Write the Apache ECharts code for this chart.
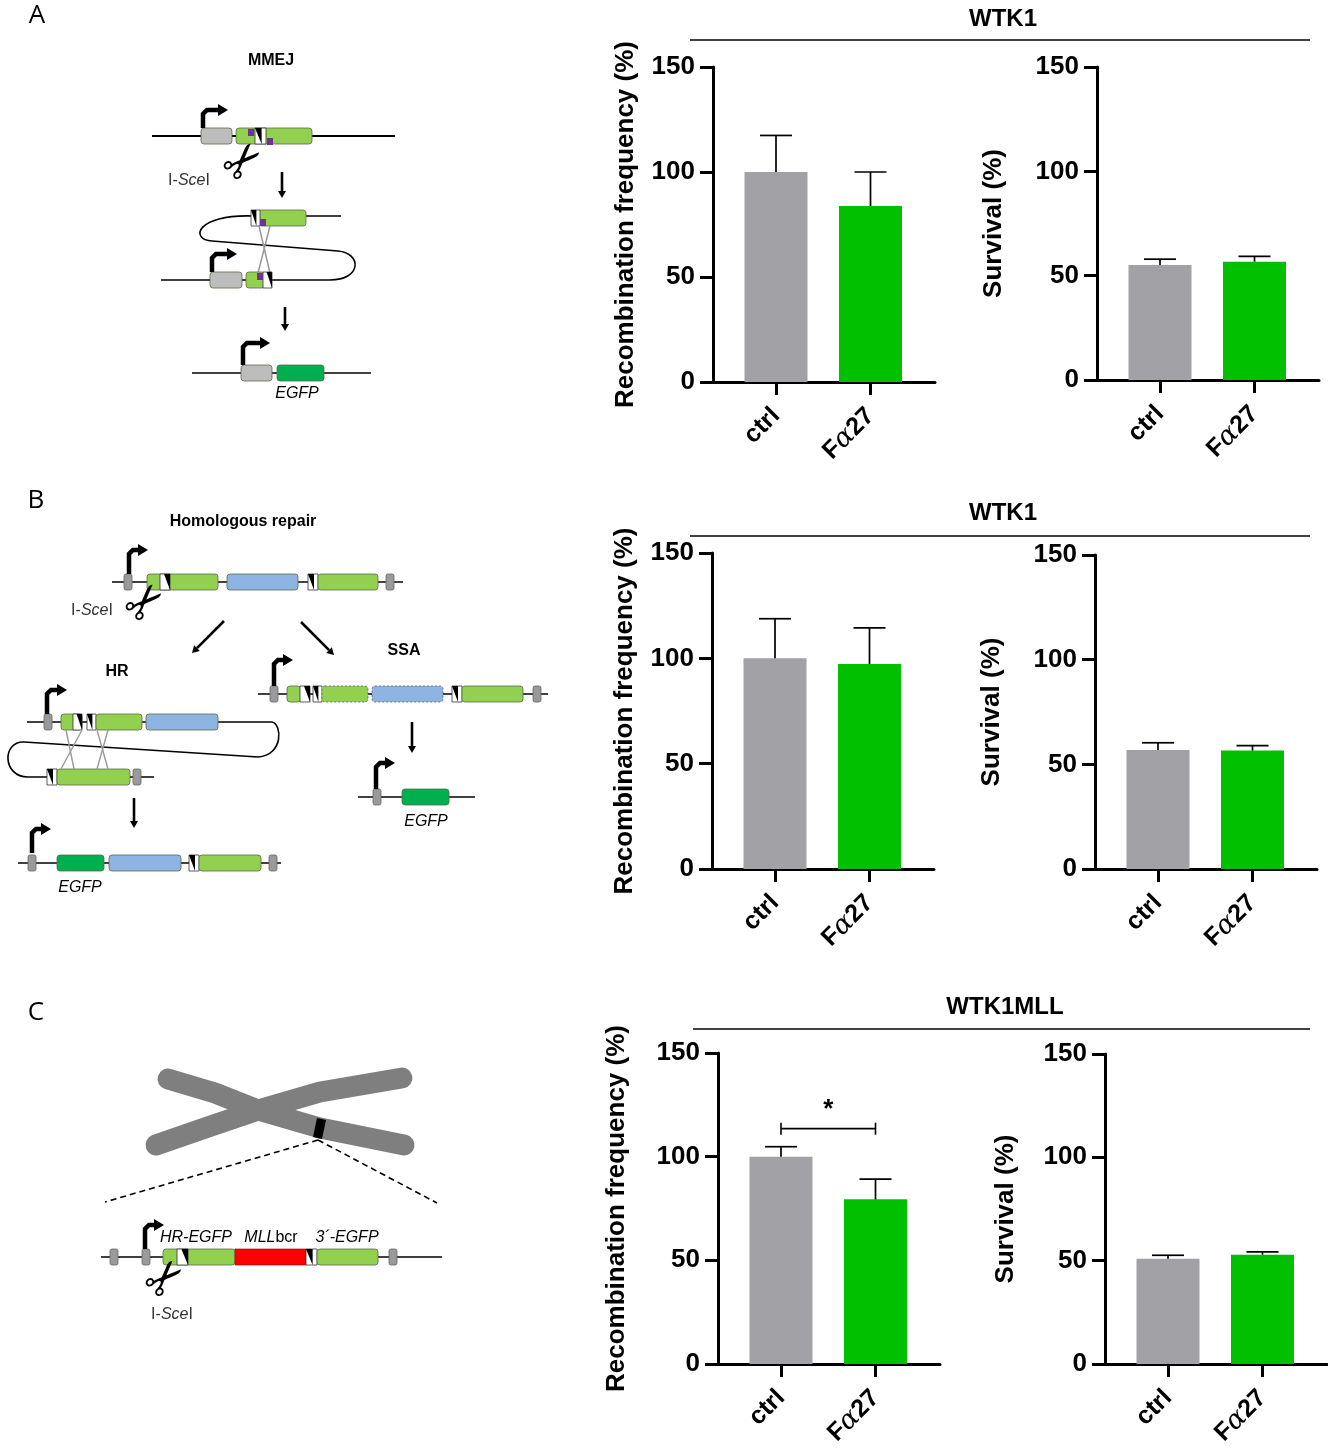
<!DOCTYPE html>
<html>
<head>
<meta charset="utf-8">
<script src="https://cdn.jsdelivr.net/npm/echarts@6/dist/echarts.min.js"></script>
<style>
html,body{margin:0;padding:0;background:#fff}
#main{width:1328px;height:1449px}
</style>
</head>
<body>
<div id="main"></div>
<script>
// ---- data ----
var categories = ['ctrl', 'Fα27'];
var barColors = ['#a2a1a6', '#00c000'];

// A : WTK1 (MMEJ reporter)
var recA = [100, 83.8];
var recAErr = [17.4, 16.2];
var survA = [55.1, 56.7];
var survAErr = [2.8, 2.5];
// B : WTK1 (homologous repair reporter)
var recB = [100, 97.3];
var recBErr = [18.8, 17.2];
var survB = [56.9, 56.6];
var survBErr = [3.4, 2.3];
// C : WTK1MLL
var recC = [100, 79.4];
var recCErr = [4.8, 9.8];
var survC = [50.9, 52.9];
var survCErr = [1.7, 1.3];
// significance bracket in C (from ctrl to Fα27, at this height)
var sigC = [[1, 2, 113.5, '*']];

var FONT = 'Liberation Sans, Arial, sans-serif';
var recName = 'Recombination frequency (%)';
var survName = 'Survival (%)';

var panels = [
  {x: 713, top: 67, bottom: 382, v: recA, e: recAErr, name: recName, gap: 74},
  {x: 1097, top: 67, bottom: 380, v: survA, e: survAErr, name: survName, gap: 90},
  {x: 712, top: 553, bottom: 869, v: recB, e: recBErr, name: recName, gap: 74},
  {x: 1095, top: 555, bottom: 869, v: survB, e: survBErr, name: survName, gap: 90},
  {x: 718, top: 1053, bottom: 1368, v: recC, e: recCErr, name: recName, gap: 88},
  {x: 1105, top: 1054, bottom: 1366, v: survC, e: survCErr, name: survName, gap: 86}
];

var chart = echarts.init(document.getElementById('main'));

function catLabel(v) {
  var s = categories[Math.round(v) - 1] || '';
  return s.replace(/([^α]+)/g, '{b|$1}').replace('α', '{a|α}');
}

var grids = [], xAxes = [], yAxes = [], series = [];
panels.forEach(function (p, i) {
  grids.push({left: p.x, top: p.top, width: 222, height: p.bottom - p.top});
  xAxes.push({
    gridIndex: i, type: 'value', min: 1 / 3, max: 1 / 3 + 222 / 94.5,
    axisLine: {show: true, onZero: false, lineStyle: {color: '#000', width: 3}},
    splitLine: {show: false},
    axisTick: {show: true, customValues: [1, 2], length: 13, lineStyle: {color: '#000', width: 3}},
    axisLabel: {
      customValues: [1, 2], rotate: 45, margin: 30, formatter: catLabel,
      rich: {
        b: {fontSize: 25, fontWeight: 'bold', fontFamily: FONT, color: '#000'},
        a: {fontSize: 27, fontStyle: 'italic', fontFamily: 'DejaVu Serif, serif', color: '#000'}
      }
    }
  });
  yAxes.push({
    gridIndex: i, type: 'value', min: 0, max: 150, interval: 50,
    axisLine: {show: true, lineStyle: {color: '#000', width: 3}},
    axisTick: {show: true, length: 13, lineStyle: {color: '#000', width: 3}},
    splitLine: {show: false},
    axisLabel: {fontSize: 26, fontWeight: 'bold', fontFamily: FONT, color: '#000', margin: 18},
    name: p.name, nameLocation: 'middle', nameGap: p.gap,
    nameTextStyle: {fontSize: 26, fontWeight: 'bold', fontFamily: FONT, color: '#000'}
  });
  series.push({
    type: 'bar', xAxisIndex: i, yAxisIndex: i, barWidth: 63, silent: true,
    data: p.v.map(function (v, k) {
      return {value: [k + 1, v], itemStyle: {color: barColors[k]}};
    })
  });
  series.push({
    type: 'custom', xAxisIndex: i, yAxisIndex: i, silent: true, z: 5,
    data: p.v.map(function (v, k) { return [k + 1, v, v + p.e[k]]; }),
    renderItem: function (params, api) {
      var x = api.value(0);
      var a = api.coord([x, api.value(1)]);
      var b = api.coord([x, api.value(2)]);
      var st = {stroke: '#000', lineWidth: 1.7};
      return {type: 'group', children: [
        {type: 'line', shape: {x1: a[0], y1: a[1], x2: b[0], y2: b[1]}, style: st},
        {type: 'line', shape: {x1: b[0] - 16, y1: b[1], x2: b[0] + 16, y2: b[1]}, style: st}
      ]};
    }
  });
});

// significance bracket, panel C left
series.push({
  type: 'custom', xAxisIndex: 4, yAxisIndex: 4, silent: true, z: 5,
  data: sigC,
  renderItem: function (params, api) {
    var a = api.coord([api.value(0), api.value(2)]);
    var b = api.coord([api.value(1), api.value(2)]);
    var st = {stroke: '#000', lineWidth: 1.6};
    return {type: 'group', children: [
      {type: 'line', shape: {x1: a[0], y1: a[1], x2: b[0], y2: b[1]}, style: st},
      {type: 'line', shape: {x1: a[0], y1: a[1] - 6, x2: a[0], y2: a[1] + 6}, style: st},
      {type: 'line', shape: {x1: b[0], y1: b[1] - 6, x2: b[0], y2: b[1] + 6}, style: st},
      {type: 'text', x: (a[0] + b[0]) / 2, y: a[1] - 6,
        style: {text: sigC[params.dataIndex][3], fontSize: 26, fontWeight: 'bold', fontFamily: FONT,
          fill: '#000', align: 'center', verticalAlign: 'bottom'}}
    ]};
  }
});

// ---- schematic drawings (left column) ----
var G = [];
function ln(x1, y1, x2, y2, w, c, dash) {
  G.push({type: 'line', shape: {x1: x1, y1: y1, x2: x2, y2: y2},
    style: {stroke: c || '#000', lineWidth: w || 1.6, lineDash: dash || null}});
}
function bz(x1, y1, c1x, c1y, c2x, c2y, x2, y2) {
  G.push({type: 'bezierCurve', shape: {x1: x1, y1: y1, cpx1: c1x, cpy1: c1y, cpx2: c2x, cpy2: c2y, x2: x2, y2: y2},
    style: {stroke: '#000', lineWidth: 1.6, fill: null}});
}
function bx(x1, x2, y, fill, dash) {
  G.push({type: 'rect', shape: {x: x1, y: y - 8, width: x2 - x1, height: 16, r: 3},
    style: {fill: fill, stroke: dash ? '#556' : '#5a6a4a', lineWidth: 0.8, lineDash: dash ? [2, 2] : null}});
}
function gb(x, y) {
  G.push({type: 'rect', shape: {x: x, y: y - 8, width: 8, height: 16, r: 2},
    style: {fill: '#9a9a9a', stroke: '#666', lineWidth: 0.8}});
}
function mk(x, y, w, flip) {
  w = w || 9;
  G.push({type: 'rect', shape: {x: x, y: y - 8, width: w, height: 16}, style: {fill: '#fff', stroke: '#333', lineWidth: 0.8}});
  var pts = flip ? [[x + w, y - 8], [x + w * 0.4, y - 8], [x + w, y + 8]] : [[x, y - 8], [x + w * 0.6, y - 8], [x + w * 0.6, y + 8]];
  G.push({type: 'polygon', shape: {points: pts}, style: {fill: '#000'}});
}
function sq(x, y) {
  G.push({type: 'rect', shape: {x: x, y: y, width: 6, height: 7}, style: {fill: '#7030a0'}});
}
function pr(x, y, h, w) {
  G.push({type: 'polyline', shape: {points: [[x, y], [x, y - h + 4], [x + 4, y - h], [x + w - 6, y - h]]},
    style: {stroke: '#000', lineWidth: 4.5, fill: null}});
  G.push({type: 'polygon', shape: {points: [[x + w - 7, y - h - 6], [x + w + 3, y - h], [x + w - 7, y - h + 6]]}, style: {fill: '#000'}});
}
function ar(x1, y1, x2, y2) {
  var a = Math.atan2(y2 - y1, x2 - x1), L = 7, W = 4;
  var bx0 = x2 - L * Math.cos(a), by0 = y2 - L * Math.sin(a);
  ln(x1, y1, bx0, by0, 2.6);
  G.push({type: 'polygon', shape: {points: [[x2, y2],
    [bx0 + W * Math.sin(a), by0 - W * Math.cos(a)], [bx0 - W * Math.sin(a), by0 + W * Math.cos(a)]]}, style: {fill: '#000'}});
}
function tx(x, y, t, size, weight, style, fam) {
  G.push({type: 'text', x: x, y: y, style: {text: t, fontSize: size, fontWeight: weight || 'normal',
    fontStyle: style || 'normal', fontFamily: fam || FONT, fill: '#000', align: 'center', verticalAlign: 'middle'}});
}
function rich(x, y, t, size) {
  G.push({type: 'text', x: x, y: y, style: {text: t, fill: '#333', align: 'center', verticalAlign: 'middle',
    rich: {n: {fontSize: size, fontFamily: FONT, fill: '#333'}, i: {fontSize: size, fontFamily: FONT, fontStyle: 'italic', fill: '#333'}}}});
}
function sc(x, y, rot) {
  G.push({type: 'text', x: x, y: y, rotation: rot, style: {text: '✂', fontSize: 48, fontFamily: 'DejaVu Sans',
    fill: '#000', align: 'center', verticalAlign: 'middle'}});
}
var LG = '#92d050', DG = '#00b050', BL = '#8db4e2', GR = '#bdbdbd';

// panel letters
tx(37, 16, 'A', 26, 'normal', null, 'Open Sans');
tx(36, 501, 'B', 26, 'normal', null, 'Open Sans');
tx(36, 1013, 'C', 26, 'normal', null, 'Open Sans');

// ---- A : MMEJ
tx(271, 61, 'MMEJ', 16, 'bold');
ln(152, 136, 395, 136, 2);
bx(201, 232, 136, GR);
bx(236, 312, 136, LG);
mk(255, 136, 11);
sq(248, 129); sq(267, 138);
pr(203, 128, 18, 22);
sc(246, 164, Math.PI / 4);
rich(189, 181, '{n|I-}{i|Sce}{n|I}', 16);
ar(282, 172, 282, 198);
ln(253, 216, 341, 216);
bz(253, 216, 195, 214, 190, 240, 212, 241);
ln(212, 241, 338, 251);
bz(338, 251, 362, 253, 362, 280, 330, 280);
ln(161, 280, 330, 280);
bx(258, 306, 218, LG);
mk(251, 218, 9);
sq(260, 219);
ln(259, 226, 270, 273, 1.5, '#999');
ln(270, 226, 258, 273, 1.5, '#999');
bx(210, 242, 280, GR);
bx(246, 265, 280, LG);
mk(263, 280, 9, true);
sq(257, 273);
pr(212, 272, 18, 22);
ar(285, 307, 285, 331);
ln(192, 373, 371, 373);
bx(241, 272, 373, GR);
bx(277, 324, 373, DG);
pr(243, 365, 22, 24);
tx(297, 394, 'EGFP', 16, 'normal', 'italic');

// ---- B : homologous repair
tx(243, 522, 'Homologous repair', 16, 'bold');
ln(112, 582, 403, 582);
gb(124, 582);
bx(147, 218, 582, LG);
mk(160, 582, 10, true);
bx(227, 298, 582, BL);
mk(308, 582, 10);
bx(318, 378, 582, LG);
gb(386, 582);
pr(129, 574, 24, 16);
sc(148, 605, Math.PI / 4);
rich(92, 611, '{n|I-}{i|Sce}{n|I}', 16);
ar(224, 621, 192, 653);
ar(301, 622, 334, 655);
tx(117, 672, 'HR', 16, 'bold');
tx(404, 651, 'SSA', 16, 'bold');
// HR intermediate
ln(27, 722, 272, 722);
bz(272, 722, 282, 724, 284, 755, 258, 757);
ln(258, 757, 24, 742);
bz(24, 742, 2, 741, 2, 777, 28, 777);
ln(28, 777, 154, 777);
gb(44, 722);
bx(61, 82, 722, LG);
mk(73, 722, 9, true);
mk(87, 722, 9);
bx(96, 142, 722, LG);
bx(146, 218, 722, BL);
mk(47, 777, 10);
bx(57, 130, 777, LG);
gb(133, 777);
ln(66, 730, 74, 769, 1.4, '#999'); ln(82, 730, 61, 769, 1.4, '#999');
ln(97, 730, 108, 769, 1.4, '#999'); ln(108, 730, 97, 769, 1.4, '#999');
pr(47, 714, 24, 17);
ar(134, 798, 134, 828);
// HR product
ln(18, 863, 281, 863);
gb(28, 863);
bx(57, 104, 863, DG);
bx(109, 181, 863, BL);
mk(189, 863, 10);
bx(199, 261, 863, LG);
gb(269, 863);
pr(32, 853, 24, 16);
tx(80, 888, 'EGFP', 16, 'normal', 'italic');
// SSA intermediate
ln(258, 694, 548, 694);
gb(270, 694);
bx(287, 301, 694, LG);
mk(300, 694, 10, true);
mk(313, 694, 9);
bx(322, 368, 694, LG, true);
bx(372, 443, 694, BL, true);
mk(452, 694, 10);
bx(462, 523, 694, LG);
gb(533, 694);
pr(274, 686, 26, 16);
ar(412, 722, 412, 753);
// SSA product
ln(358, 797, 475, 797);
gb(373, 797);
bx(402, 449, 797, DG);
pr(376, 789, 26, 16);
tx(426, 822, 'EGFP', 16, 'normal', 'italic');

// ---- C : chromosome + MLL reporter
G.push({type: 'polyline', shape: {points: [[156, 1145], [205, 1128], [258, 1110], [320, 1092], [402, 1078]]},
  style: {stroke: '#7f7f7f', lineWidth: 21, lineCap: 'round', lineJoin: 'round', fill: null}});
G.push({type: 'polyline', shape: {points: [[168, 1079], [215, 1093], [258, 1110], [320, 1128], [404, 1145]]},
  style: {stroke: '#7f7f7f', lineWidth: 21, lineCap: 'round', lineJoin: 'round', fill: null}});
G.push({type: 'polygon', shape: {points: [[317, 1118], [326, 1120], [322, 1139], [313, 1137]]}, style: {fill: '#000'}});
ln(318, 1140, 105, 1202, 1.6, '#000', [6, 4]);
ln(318, 1140, 437, 1203, 1.6, '#000', [6, 4]);
ln(101, 1257, 442, 1257);
gb(110, 1257);
gb(142, 1257);
bx(163, 235, 1257, LG);
mk(177, 1257, 11, true);
G.push({type: 'rect', shape: {x: 235, y: 1249, width: 71, height: 16}, style: {fill: '#ff0000', stroke: '#900', lineWidth: 0.6}});
mk(306, 1257, 11);
bx(317, 378, 1257, LG);
gb(389, 1257);
pr(145, 1249, 24, 16);
tx(196, 1238, 'HR-EGFP', 16, 'normal', 'italic');
G.push({type: 'text', x: 271, y: 1238, style: {text: '{i|MLL}{n|bcr}', align: 'center', verticalAlign: 'middle',
  rich: {i: {fontSize: 16, fontStyle: 'italic', fontFamily: FONT, fill: '#000'}, n: {fontSize: 16, fontFamily: FONT, fill: '#000'}}}});
tx(347, 1238, '3´-EGFP', 16, 'normal', 'italic');
sc(168, 1281, Math.PI / 4);
rich(172, 1315, '{n|I-}{i|Sce}{n|I}', 16);

// chart titles and their rules
ln(690, 40, 1310, 40, 1.6);
ln(690, 536, 1310, 536, 1.6);
ln(693, 1029, 1310, 1029, 1.6);

var titleStyle = {fontSize: 24, fontWeight: 'bold', fontFamily: FONT, color: '#000'};
chart.setOption({
  backgroundColor: '#fff',
  animation: false,
  title: [
    {text: 'WTK1', left: 998, top: 2, textAlign: 'center', textStyle: titleStyle},
    {text: 'WTK1', left: 998, top: 496, textAlign: 'center', textStyle: titleStyle},
    {text: 'WTK1MLL', left: 1000, top: 990, textAlign: 'center', textStyle: titleStyle}
  ],
  grid: grids,
  xAxis: xAxes,
  yAxis: yAxes,
  series: series,
  graphic: G
});
</script>
</body>
</html>
